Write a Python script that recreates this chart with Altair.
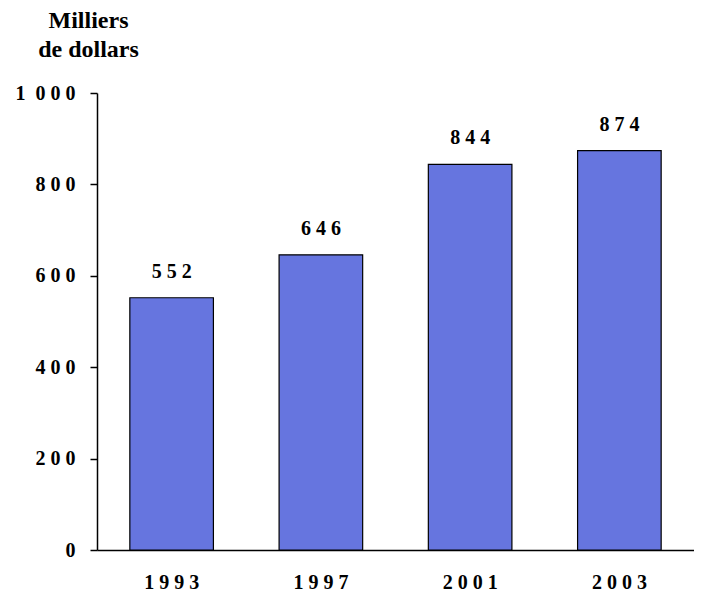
import altair as alt
import pandas as pd

years = ["1993", "1997", "2001", "2003"]
values = [552, 646, 844, 874]
y_ticks = [0, 200, 400, 600, 800, 1000]
y_title = ["Milliers", "de dollars"]

df = pd.DataFrame({"year": years, "value": values})
df["label"] = [" ".join(str(v)) for v in values]

FONT = "Liberation Serif"

x = alt.X(
    "year:N",
    sort=years,
    scale=alt.Scale(paddingInner=0.44, paddingOuter=0.22),
    axis=alt.Axis(
        title=None,
        labelAngle=0,
        ticks=False,
        labelPadding=22,
        labelFontSize=20,
        labelFontWeight="bold",
        labelColor="black",
        labelExpr="join(split(datum.label, ''), ' ')",
        domainColor="black",
        domainWidth=1.5,
    ),
)

y = alt.Y(
    "value:Q",
    scale=alt.Scale(domain=[0, 1000]),
    axis=alt.Axis(
        values=y_ticks,
        grid=False,
        tickSize=7,
        tickColor="black",
        tickWidth=1.5,
        domainColor="black",
        domainWidth=1.5,
        labelPadding=15,
        labelFontSize=20,
        labelFontWeight="bold",
        labelColor="black",
        labelExpr="datum.value == 1000 ? '1\u00a0\u00a00\u00a00\u00a00' : join(split(toString(datum.value), ''), ' ')",
        title=y_title,
        titleAngle=0,
        titleAlign="center",
        titleBaseline="alphabetic",
        titleX=-9,
        titleY=-66,
        titleFontSize=24,
        titleFontWeight="bold",
        titleColor="black",
        titleLineHeight=29,
    ),
)

bars = alt.Chart(df).mark_bar(color="#6675DF", stroke="black", strokeWidth=1.2).encode(x=x, y=y)

texts = alt.Chart(df).mark_text(
    font=FONT, fontSize=20, fontWeight="bold", color="black",
    baseline="alphabetic", dy=-20,
).encode(x=x, y=y, text="label:N")

chart = (bars + texts).properties(
    width=597,
    height=457,
    autosize=alt.AutoSizeParams(type="none"),
    padding={"left": 89, "top": 85, "right": 0, "bottom": 44},
).configure(
    background="white",
    font=FONT,
).configure_axis(
    titleFont=FONT,
    labelFont=FONT,
).configure_view(stroke=None)

chart.save("out.html", embed_options={"renderer": "svg", "actions": False})
